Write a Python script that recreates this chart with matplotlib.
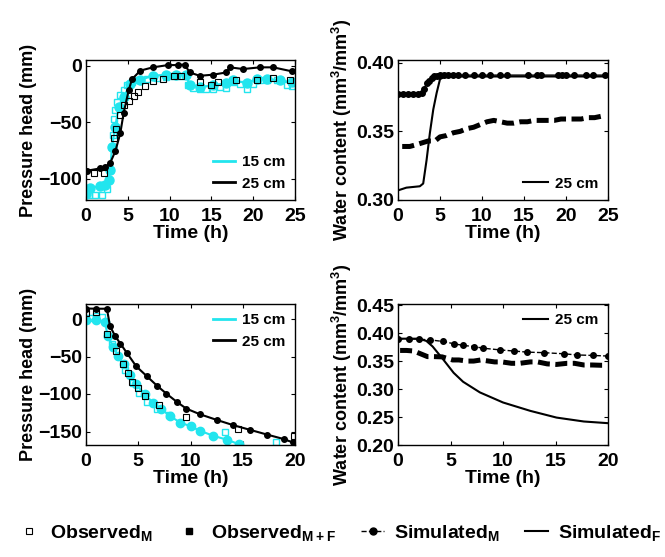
import matplotlib.pyplot as plt
from matplotlib.lines import Line2D

plt.rcParams['font.family'] = ['Liberation Sans', 'DejaVu Sans']
plt.rcParams['font.weight'] = 'bold'
plt.rcParams['mathtext.fontset'] = 'custom'
plt.rcParams['mathtext.rm'] = 'Liberation Sans:bold'
plt.rcParams['mathtext.bf'] = 'Liberation Sans:bold'
plt.rcParams['mathtext.default'] = 'bf'

CYAN = '#22e5ee'

# --- top left: pressure head, wetting ---
t_sim25_a = [0.16, 1.7, 2.3, 2.9, 3.5, 4.1, 4.5, 5.1, 5.5, 6.5, 8, 9.8, 11, 11.8, 12.4, 13.6, 15.2, 16.8, 17.2, 18.8, 20.8, 22.4, 24.6]
h_sim25_a = [-93, -91, -90, -86, -76, -60, -42, -22, -12, -4.4, -1.5, 0.5, 0.5, 1, -6, -9, -8, -6, -1.5, -3, -1.5, -1.5, -5]
t_sim15_a = [0, 0.5, 1.7, 2.3, 2.7, 2.9, 3.1, 3.5, 3.9, 4.5, 5.3, 6.5, 8, 9.6, 10.8, 12, 12.4, 13.6, 15.2, 16.8, 17.6, 19.2, 20.4, 21.6, 23.2, 24.6]
h_sim15_a = [-114, -108, -107, -106, -101, -92, -72, -54, -37, -28, -16, -12.6, -9, -8, -8, -8, -17.5, -19, -17.5, -15.5, -13, -15.5, -11.7, -11.7, -13, -14.6]
t_obs15_a = [0.3, 1.1, 1.9, 2.5, 2.9, 3.1, 3.2, 3.3, 3.5, 3.7, 4.1, 4.5, 4.9, 5.5, 6.1, 7.3, 8.5, 9.6, 10.4, 11.4, 12.2, 12.8, 13.6, 14.4, 15.2, 16.0, 16.8, 17.6, 18.4, 19.2, 20.0, 20.8, 21.6, 22.8, 24.0, 24.6]
h_obs15_a = [-115, -115, -115, -109, -92, -72, -61, -47, -39, -32, -26, -22, -17.5, -14.6, -13, -11.7, -10.8, -10, -9.6, -9.6, -17.5, -19.6, -20.5, -21, -20.5, -19, -19.6, -14.6, -16, -20.5, -16, -13, -13, -12.6, -17.5, -18.4]
t_obs25_a = [0.9, 2.2, 3.3, 3.6, 4.1, 4.5, 5.1, 5.7, 6.2, 7.1, 8, 9.2, 10.5, 11.4, 13.6, 15, 15.8, 18, 20.4, 22.4, 24.4]
h_obs25_a = [-95, -95, -64, -56, -44, -35, -31, -27, -23, -18, -14, -12, -9.6, -9.6, -14.6, -17, -14.6, -13, -12.6, -11, -13]

# --- top right: water content, wetting ---
t_thF_a = [0, 1, 2.6, 3, 3.4, 3.8, 4.2, 4.6, 5, 5.6, 7, 10, 15, 20, 25]
th_thF_a = [0.307, 0.309, 0.310, 0.312, 0.329, 0.349, 0.366, 0.378, 0.388, 0.390, 0.390, 0.390, 0.390, 0.390, 0.390]
t_thM_a = [0, 0.6, 1.2, 1.8, 2.4, 2.8, 3.1, 3.4, 3.7, 4.0, 4.3, 4.6, 5.0, 5.5, 6.0, 6.5, 7.2, 8.0, 9.0, 10.0, 11.0, 12.2, 13.0, 15.5, 16.5, 17.0, 19.0, 19.5, 20.0, 21.0, 22.4, 23.2, 24.6]
th_thM_a = [0.377, 0.377, 0.377, 0.377, 0.377, 0.378, 0.381, 0.385, 0.387, 0.389, 0.390, 0.3905, 0.391, 0.391, 0.391, 0.391, 0.391, 0.391, 0.391, 0.391, 0.391, 0.391, 0.391, 0.391, 0.391, 0.391, 0.391, 0.391, 0.391, 0.391, 0.391, 0.391, 0.391]
t_thO_a = [0.5, 1.4, 2.0, 3.6, 4.4, 5.0, 5.8, 6.6, 7.4, 8.2, 9.0, 9.8, 10.6, 11.4, 12.2, 13.0, 13.8, 14.6, 15.4, 16.2, 17.0, 17.8, 18.6, 19.4, 20.2, 21.0, 21.8, 22.6, 23.4, 24.2]
th_thO_a = [0.339, 0.339, 0.340, 0.343, 0.343, 0.346, 0.347, 0.349, 0.350, 0.352, 0.353, 0.355, 0.357, 0.358, 0.357, 0.356, 0.356, 0.357, 0.357, 0.358, 0.358, 0.358, 0.358, 0.359, 0.359, 0.359, 0.359, 0.360, 0.360, 0.361]

# --- bottom left: pressure head, drying ---
t_sim25_b = [0, 1, 2, 2.3, 2.8, 3.3, 3.9, 4.8, 5.8, 6.8, 7.7, 8.7, 9.6, 10.9, 12.5, 14.1, 15.7, 17.3, 18.9, 19.8]
h_sim25_b = [14, 13.7, 13.7, -9.7, -23, -33, -45, -63, -76, -89, -99.6, -110.6, -119.5, -127, -134.5, -141.6, -147.8, -154, -160, -164.6]
t_sim15_b = [0, 1, 1.8, 2.1, 2.6, 3.1, 3.6, 4.2, 4.8, 5.6, 6.4, 7.2, 8, 9, 10, 10.9, 12.2, 13.5, 14.6]
h_sim15_b = [-1, -1, -4.4, -23, -37, -49.6, -60.6, -74, -87, -100.4, -111.5, -120, -129, -138, -143, -149, -155.8, -161, -166.8]
t_obs15_b = [0, 0.4, 1, 1.5, 2, 2.5, 3.7, 4.5, 5.1, 5.8, 6.8, 7.9, 13.3, 18.2]
h_obs15_b = [-1, 1, 3.5, 2.6, -20.8, -32.7, -68, -85, -98, -110.6, -120, -128, -150.5, -164]
t_obs25_b = [0, 1, 2, 2.9, 3.5, 4, 4.4, 5, 5.6, 7, 9.6, 14.5, 19.9]
h_obs25_b = [8, 8.8, -20, -42, -60.6, -72.6, -83.6, -92.5, -102.6, -115, -130, -147, -156]

# --- bottom right: water content, drying ---
t_thF_b = [0, 2, 2.7, 3.3, 4.3, 5.3, 6.2, 7.8, 10, 12.6, 15.1, 17.7, 20]
th_thF_b = [0.390, 0.390, 0.386, 0.376, 0.353, 0.329, 0.313, 0.294, 0.276, 0.261, 0.249, 0.242, 0.239]
t_thM_b = [0, 1, 2, 3, 4.3, 5.3, 6.2, 7.2, 8.1, 9.7, 11, 12.3, 13.9, 15.8, 17, 18.6, 20]
th_thM_b = [0.390, 0.390, 0.389, 0.388, 0.385, 0.381, 0.378, 0.376, 0.373, 0.370, 0.368, 0.366, 0.365, 0.363, 0.361, 0.360, 0.359]
t_thO_b = [0.2, 0.8, 1.5, 2.8, 3.4, 4.2, 5.2, 5.8, 6.6, 7.2, 7.9, 9.2, 9.9, 10.8, 11.6, 12.6, 13.3, 14.2, 15.1, 16.1, 16.8, 17.7, 18.5, 19.3, 19.9]
th_thO_b = [0.369, 0.369, 0.368, 0.358, 0.358, 0.3575, 0.352, 0.352, 0.350, 0.350, 0.352, 0.3485, 0.3485, 0.346, 0.346, 0.3485, 0.3485, 0.345, 0.344, 0.346, 0.346, 0.343, 0.343, 0.3425, 0.3425]

xticks_a = [0, 5, 10, 15, 20, 25]
xticks_b = [0, 5, 10, 15, 20]

fig = plt.figure(figsize=(6.65, 5.57), dpi=100)
W, H = 665, 557


def box(l, t, r, b):
    return [l / W, 1 - b / H, (r - l) / W, (b - t) / H]


ax1 = fig.add_axes(box(86, 60, 295, 200))
ax2 = fig.add_axes(box(398, 60, 608, 200))
ax3 = fig.add_axes(box(86, 304, 295, 445))
ax4 = fig.add_axes(box(398, 304, 608, 445))

# top left
ax1.plot(t_sim15_a, h_sim15_a, '-', color=CYAN, lw=1.5)
ax1.plot(t_sim15_a, h_sim15_a, 'o', color=CYAN, ms=6.5)
ax1.plot(t_obs15_a, h_obs15_a, 's', mfc='none', mec=CYAN, ms=4, mew=1)
ax1.plot(t_sim25_a, h_sim25_a, '-', color='black', lw=1.5)
ax1.plot(t_sim25_a, h_sim25_a, 'o', color='black', ms=4)
ax1.plot(t_obs25_a, h_obs25_a, 's', mfc='none', mec='black', ms=4, mew=0.8)

# top right
ax2.plot(t_thF_a, th_thF_a, '-', color='black', lw=1.5)
ax2.plot(t_thM_a, th_thM_a, 'o-', color='black', ms=4, lw=1)
ax2.plot(t_thO_a, th_thO_a, color='black', lw=3.6, dashes=(2.4, 1.1))

# bottom left
ax3.plot(t_sim15_b, h_sim15_b, '-', color=CYAN, lw=1.5)
ax3.plot(t_sim15_b, h_sim15_b, 'o', color=CYAN, ms=6)
ax3.plot(t_obs15_b, h_obs15_b, 's', mfc='none', mec=CYAN, ms=5, mew=1)
ax3.plot(t_sim25_b, h_sim25_b, '-', color='black', lw=1.5)
ax3.plot(t_sim25_b, h_sim25_b, 'o', color='black', ms=4)
ax3.plot(t_obs25_b, h_obs25_b, 's', mfc='none', mec='black', ms=5, mew=0.8)

# bottom right
ax4.plot(t_thF_b, th_thF_b, '-', color='black', lw=1.5)
ax4.plot(t_thM_b, th_thM_b, 'o--', color='black', ms=4, lw=1)
ax4.plot(t_thO_b, th_thO_b, color='black', lw=3.6, dashes=(2.4, 1.1))

ax1.set_xlim(0, 25)
ax1.set_ylim(-119, 5)
ax1.set_yticks([-100, -50, 0])
ax2.set_xlim(0, 25)
ax2.set_ylim(0.30, 0.402)
ax2.set_yticks([0.30, 0.35, 0.40])
ax2.set_yticklabels(['0.30', '0.35', '0.40'])
ax3.set_xlim(0, 20)
ax3.set_ylim(-168, 20)
ax3.set_yticks([-150, -100, -50, 0])
ax4.set_xlim(0, 20)
ax4.set_ylim(0.20, 0.452)
ax4.set_yticks([0.20, 0.25, 0.30, 0.35, 0.40, 0.45])
ax4.set_yticklabels(['0.20', '0.25', '0.30', '0.35', '0.40', '0.45'])

for ax, xt in [(ax1, xticks_a), (ax2, xticks_a), (ax3, xticks_b), (ax4, xticks_b)]:
    ax.set_xticks(xt)
    ax.tick_params(direction='in', top=True, right=True, labelsize=14, length=3)
    ax.tick_params(axis='x', pad=6)
    ax.tick_params(axis='y', pad=3)
    ax.set_xlabel('Time (h)', fontsize=14, fontweight='bold', labelpad=0)
    for s in ax.spines.values():
        s.set_linewidth(1)

for ax in (ax1, ax3):
    ax.set_ylabel('Pressure head (mm)', fontsize=13, fontweight='bold', labelpad=1)
    ax.legend([Line2D([], [], color=CYAN, lw=2), Line2D([], [], color='black', lw=2)],
              ['15 cm', '25 cm'], frameon=False, fontsize=11, handlelength=1.4,
              handletextpad=0.5, labelspacing=0.5,
              loc='lower right' if ax is ax1 else 'upper right', borderaxespad=0.2)
for ax in (ax2, ax4):
    ax.set_ylabel('Water content (mm$^3$/mm$^3$)', fontsize=13, fontweight='bold', labelpad=1)
    ax.legend([Line2D([], [], color='black', lw=1.5)], ['25 cm'], frameon=False,
              fontsize=11, handlelength=1.6, handletextpad=0.5,
              loc='lower right' if ax is ax2 else 'upper right', borderaxespad=0.2)

handles = [
    Line2D([], [], ls='none', marker='s', mfc='none', mec='black', ms=4, mew=0.8),
    Line2D([], [], ls='none', marker='s', color='black', ms=4),
    Line2D([], [], ls='--', marker='o', color='black', ms=5, lw=1),
    Line2D([], [], ls='-', color='black', lw=1.5),
]
labels = ['Observed$_{M}$', 'Observed$_{M+F}$', 'Simulated$_{M}$', 'Simulated$_{F}$']
fig.legend(handles, labels, loc='center', bbox_to_anchor=(0.51, 1 - 533 / H), ncol=4,
           frameon=False, fontsize=14, handlelength=1.2, handletextpad=0.5,
           columnspacing=1.3)

fig.savefig('out.png', dpi=100)
